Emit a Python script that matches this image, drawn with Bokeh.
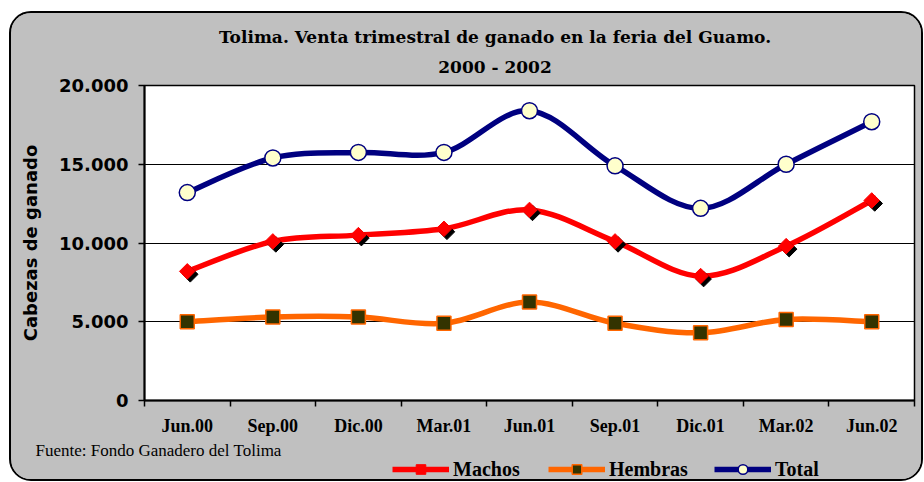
import numpy as np
from bokeh.plotting import figure
from bokeh.layouts import column
from bokeh.models import (ColumnDataSource, FixedTicker, Label, Legend, LegendItem,
                          Range1d, Title)
from bokeh.transform import dodge
from bokeh.embed import file_html
from bokeh.resources import INLINE

# ---------------- data ----------------
categories = ["Jun.00", "Sep.00", "Dic.00", "Mar.01", "Jun.01",
              "Sep.01", "Dic.01", "Mar.02", "Jun.02"]
machos = [8200, 10100, 10500, 10900, 12100, 10100, 7900, 9800, 12700]
hembras = [5000, 5300, 5300, 4900, 6250, 4900, 4300, 5150, 5000]
total = [13200, 15400, 15750, 15750, 18400, 14900, 12200, 15000, 17700]
y_ticks = [0, 5000, 10000, 15000, 20000]
y_tick_labels = ["0", "5.000", "10.000", "15.000", "20.000"]
title_line1 = "Tolima. Venta trimestral de ganado en la feria del Guamo."
title_line2 = "2000 - 2002"
y_title = "Cabezas de ganado"
source_note = "Fuente: Fondo Ganadero del Tolima"
series_names = ["Machos", "Hembras", "Total"]

GREY = "#C0C0C0"
C_MACHOS, C_HEMBRAS, C_TOTAL = "#FF0000", "#FF6600", "#000080"
W = 910
BL, BR = 133, 7          # side borders shared by all stacked figures
x_pos = list(range(len(categories)))


def smooth_segments(ys):
    """Cubic Bezier segments (Catmull-Rom style) through the data points."""
    x = np.asarray(x_pos, dtype=float)
    y = np.asarray(ys, dtype=float)
    xp = np.concatenate([[x[0]], x, [x[-1]]])
    yp = np.concatenate([[y[0]], y, [y[-1]]])
    d = dict(x0=[], y0=[], x1=[], y1=[], cx0=[], cy0=[], cx1=[], cy1=[])
    for i in range(len(x) - 1):
        p0 = (xp[i], yp[i]); p1 = (xp[i + 1], yp[i + 1])
        p2 = (xp[i + 2], yp[i + 2]); p3 = (xp[i + 3], yp[i + 3])
        d["x0"].append(p1[0]); d["y0"].append(p1[1])
        d["x1"].append(p2[0]); d["y1"].append(p2[1])
        d["cx0"].append(p1[0] + (p2[0] - p0[0]) / 6)
        d["cy0"].append(p1[1] + (p2[1] - p0[1]) / 6)
        d["cx1"].append(p2[0] - (p3[0] - p1[0]) / 6)
        d["cy1"].append(p2[1] - (p3[1] - p1[1]) / 6)
    return ColumnDataSource(d)


def strip(height):
    f = figure(width=W, height=height, title=None,
               x_range=Range1d(0, W - BL - BR), y_range=Range1d(0, height),
               x_axis_type=None, y_axis_type=None, output_backend="svg",
               toolbar_location=None,
               min_border_left=BL, min_border_right=BR,
               min_border_top=0, min_border_bottom=0,
               background_fill_color=GREY, border_fill_color=GREY,
               outline_line_color=None)
    f.grid.visible = False
    return f


# ---------------- title strip ----------------
top = strip(62)
for txt, yy in [(title_line1, 38.3), (title_line2, 8.8)]:
    top.add_layout(Label(x=350.5, y=yy, text=txt,
                         text_align="center", text_baseline="alphabetic",
                         text_font="DejaVu Serif", text_font_style="bold",
                         text_font_size="17px", text_color="black"))

# ---------------- main chart ----------------
p = figure(width=W, height=363, title=None,
           x_range=Range1d(-0.5, 8.5), y_range=Range1d(0, 20000),
           output_backend="svg", toolbar_location=None,
           background_fill_color="white", border_fill_color=GREY,
           outline_line_color="black", outline_line_width=1.5,
           min_border_left=BL, min_border_right=BR,
           min_border_top=10, min_border_bottom=37)

xa = p.xaxis[0]
xa.ticker = FixedTicker(ticks=x_pos, minor_ticks=[i - 0.5 for i in range(len(categories) + 1)])
xa.major_label_overrides = {i: c for i, c in zip(x_pos, categories)}
xa.major_tick_out = 0
xa.major_tick_in = 0
xa.minor_tick_out = 6
xa.minor_tick_in = 0
xa.minor_tick_line_color = "black"
xa.minor_tick_line_width = 1.5
xa.axis_line_width = 2
xa.axis_line_color = "black"
xa.major_label_text_font = "Liberation Serif"
xa.major_label_text_font_style = "bold"
xa.major_label_text_font_size = "18px"
xa.major_label_text_color = "black"
xa.major_label_standoff = 9

ya = p.yaxis[0]
ya.ticker = FixedTicker(ticks=y_ticks)
ya.major_label_overrides = {t: l for t, l in zip(y_ticks, y_tick_labels)}
ya.major_tick_out = 6
ya.major_tick_in = 0
ya.major_tick_line_width = 1.5
ya.minor_tick_out = 0
ya.minor_tick_in = 0
ya.axis_line_width = 2
ya.major_label_text_font = "DejaVu Sans"
ya.major_label_text_font_style = "bold"
ya.major_label_text_font_size = "18px"
ya.major_label_text_color = "black"
ya.major_label_standoff = 10
ya.axis_label = y_title
ya.axis_label_text_font = "DejaVu Sans"
ya.axis_label_text_font_style = "bold"
ya.axis_label_text_font_size = "18px"
ya.axis_label_text_color = "black"
ya.axis_label_standoff = 15

p.xgrid.visible = False
p.ygrid.grid_line_color = "black"
p.ygrid.grid_line_width = 1

pts = ColumnDataSource(dict(x=x_pos, machos=machos, hembras=hembras, total=total))

bz = dict(x0="x0", y0="y0", x1="x1", y1="y1", cx0="cx0", cy0="cy0", cx1="cx1", cy1="cy1")
p.bezier(source=smooth_segments(hembras), line_color=C_HEMBRAS, line_width=5.5, **bz)
p.bezier(source=smooth_segments(machos), line_color=C_MACHOS, line_width=5.5, **bz)
p.bezier(source=smooth_segments(total), line_color=C_TOTAL, line_width=5.5, **bz)

p.scatter(x="x", y="hembras", source=pts, marker="square", size=14,
          fill_color="#333300", line_color=C_HEMBRAS, line_width=1.5)
# shadow of the Machos markers
p.scatter(x=dodge("x", 0.035), y=dodge("machos", -190),
          source=pts, marker="square", angle=np.pi / 4, size=11,
          fill_color="black", line_color="black")
p.scatter(x="x", y="machos", source=pts, marker="square", angle=np.pi / 4, size=11,
          fill_color=C_MACHOS, line_color=C_MACHOS, line_width=1)
p.scatter(x="x", y="total", source=pts, marker="circle", size=16,
          fill_color="#FFFFCC", line_color=C_TOTAL, line_width=1.5)

# ---------------- legend / source strip ----------------
bot = strip(41)
bot.add_layout(Title(text=source_note, align="left", offset=-109, standoff=0,
                     text_font="Liberation Serif", text_font_style="normal",
                     text_font_size="17px", text_color="black"), "above")

nan_src = ColumnDataSource(dict(x=[np.nan], y=[np.nan]))
marker_styles = [
    dict(marker="square", angle=np.pi / 4, fill_color=C_MACHOS, line_color=C_MACHOS),
    dict(marker="square", fill_color="#333300", line_color=C_HEMBRAS, line_width=1.5),
    dict(marker="circle", fill_color="#FFFFCC", line_color=C_TOTAL, line_width=1.5),
]
for name, col, mk, vx in zip(series_names, [C_MACHOS, C_HEMBRAS, C_TOTAL],
                             marker_styles, [248, 404, 570]):
    ln = bot.line(x="x", y="y", source=nan_src, line_color=col, line_width=5.5)
    sc = bot.scatter(x="x", y="y", source=nan_src, size=10, **mk)
    lg = Legend(items=[LegendItem(label=name, renderers=[ln, sc])],
                location=(vx, -2), orientation="horizontal",
                glyph_width=57, glyph_height=24, label_standoff=4,
                padding=0, margin=0, spacing=0,
                background_fill_alpha=0, border_line_alpha=0,
                label_text_font="Liberation Serif", label_text_font_style="bold",
                label_text_font_size="20px", label_text_color="black")
    bot.add_layout(lg, "center")

layout = column(top, p, bot, spacing=0, margin=(11, 0, 0, 9),
                styles={"border": "2px solid black", "border-radius": "22px",
                        "overflow": "hidden", "background-color": GREY})

open("out.html", "w").write(file_html(layout, INLINE))
